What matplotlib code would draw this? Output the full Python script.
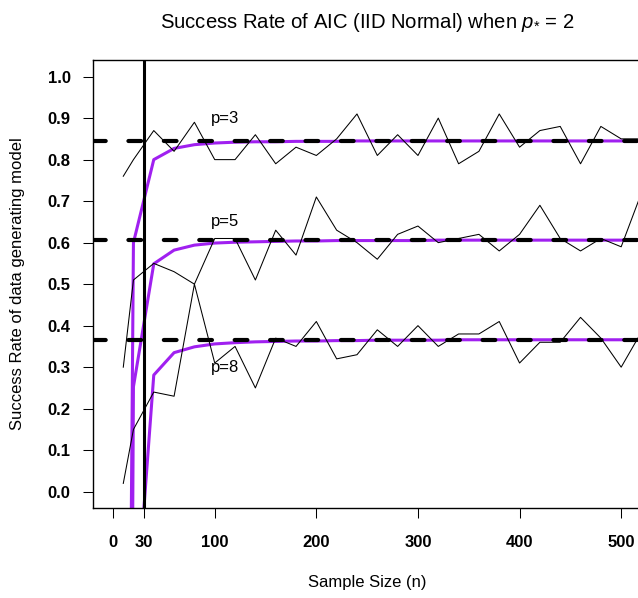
import matplotlib
matplotlib.use("Agg")
import matplotlib.pyplot as plt

plt.rcParams['font.family'] = ['Liberation Sans', 'DejaVu Sans']
plt.rcParams['mathtext.fontset'] = 'custom'
plt.rcParams['mathtext.rm'] = 'Liberation Sans'
plt.rcParams['mathtext.it'] = 'Liberation Sans:italic'

# sample sizes of the simulation
n = [10, 20, 40, 60, 80, 100, 120, 140, 160, 180, 200, 220, 240, 260, 280,
     300, 320, 340, 360, 380, 400, 420, 440, 460, 480, 500, 520]

# simulated success rates (thin black lines)
sim_p3 = [0.76, 0.80, 0.87, 0.82, 0.89, 0.80, 0.80, 0.86, 0.79, 0.83, 0.81, 0.85, 0.91, 0.81,
          0.86, 0.81, 0.90, 0.79, 0.82, 0.91, 0.83, 0.87, 0.88, 0.79, 0.88, 0.85, 0.85]
sim_p5 = [0.30, 0.51, 0.55, 0.53, 0.50, 0.61, 0.61, 0.51, 0.63, 0.57, 0.71, 0.63, 0.60, 0.56,
          0.62, 0.64, 0.60, 0.61, 0.62, 0.58, 0.62, 0.69, 0.61, 0.58, 0.61, 0.59, 0.72]
sim_p8 = [0.02, 0.15, 0.24, 0.23, 0.50, 0.31, 0.35, 0.25, 0.37, 0.35, 0.41, 0.32, 0.33, 0.39,
          0.35, 0.40, 0.35, 0.38, 0.38, 0.41, 0.31, 0.36, 0.36, 0.42, 0.37, 0.30, 0.385]

# theoretical curves (purple)
theory_p3 = [-2.5, 0.60, 0.800, 0.827, 0.836, 0.840, 0.842, 0.843, 0.843, 0.844, 0.844, 0.844,
             0.845, 0.845, 0.845, 0.845, 0.845, 0.845, 0.845, 0.845, 0.845, 0.845, 0.845,
             0.845, 0.845, 0.845, 0.845]
theory_p5 = [-4.0, 0.253, 0.549, 0.582, 0.594, 0.599, 0.601, 0.602, 0.603, 0.604, 0.604, 0.605,
             0.605, 0.605, 0.605, 0.605, 0.606, 0.606, 0.606, 0.606, 0.606, 0.606, 0.606,
             0.606, 0.606, 0.606, 0.606]
theory_p8 = [-3.0, -0.38, 0.281, 0.335, 0.349, 0.356, 0.359, 0.361, 0.362, 0.363, 0.363, 0.364,
             0.364, 0.365, 0.365, 0.365, 0.365, 0.366, 0.366, 0.366, 0.366, 0.366, 0.366,
             0.366, 0.366, 0.366, 0.366]

limits = [0.845, 0.606, 0.366]
curve_labels = ["p=3", "p=5", "p=8"]
label_y = [0.90, 0.65, 0.30]
label_x = 110
xticks = [0, 30, 100, 200, 300, 400, 500]
yticks = [0.0, 0.1, 0.2, 0.3, 0.4, 0.5, 0.6, 0.7, 0.8, 0.9, 1.0]

purple = "#A020F0"

fig = plt.figure(figsize=(6.38, 5.98), dpi=100)
ax = fig.add_axes([92.8 / 638, (598 - 508.3) / 598, (641.5 - 92.8) / 638, (508.3 - 60) / 598])

for vals in [theory_p3, theory_p5, theory_p8]:
    ax.plot(n, vals, color=purple, lw=2.2, solid_capstyle="round", zorder=2)
for vals in [sim_p3, sim_p5, sim_p8]:
    ax.plot(n, vals, color="black", lw=0.75, zorder=3)
for lvl in limits:
    ax.axhline(lvl, color="black", lw=3, dashes=(3.05, 5.45), dash_capstyle="round", zorder=4)
ax.axvline(30, color="black", lw=2.2, zorder=4)

for lab, y in zip(curve_labels, label_y):
    ax.text(label_x, y, lab, ha="center", va="center", fontsize=12, zorder=5)

ax.set_xlim(-20, 520)
ax.set_ylim(-0.04, 1.04)
ax.set_xticks(xticks)
ax.set_xticklabels([str(t) for t in xticks], fontweight="bold")
ax.set_yticks(yticks)
ax.set_yticklabels(["%.1f" % t for t in yticks], fontweight="bold")
ax.tick_params(direction="out", length=7.5, width=0.75, labelsize=12)
ax.tick_params(axis="x", pad=12)
ax.tick_params(axis="y", pad=8.5)
for sp in ax.spines.values():
    sp.set_linewidth(1.0)

fig.text(367 / 638, 1 - 22 / 598, r"Success Rate of AIC (IID Normal) when $p_{*}$ = 2",
         ha="center", va="center", fontsize=14.6)
fig.text(367 / 638, 1 - 583 / 598, "Sample Size (n)", ha="center", va="center", fontsize=12)
fig.text(18 / 638, 1 - 284 / 598, "Success Rate of data generating model", rotation=90,
         ha="center", va="center", fontsize=12)

fig.savefig("out.png", dpi=100)
